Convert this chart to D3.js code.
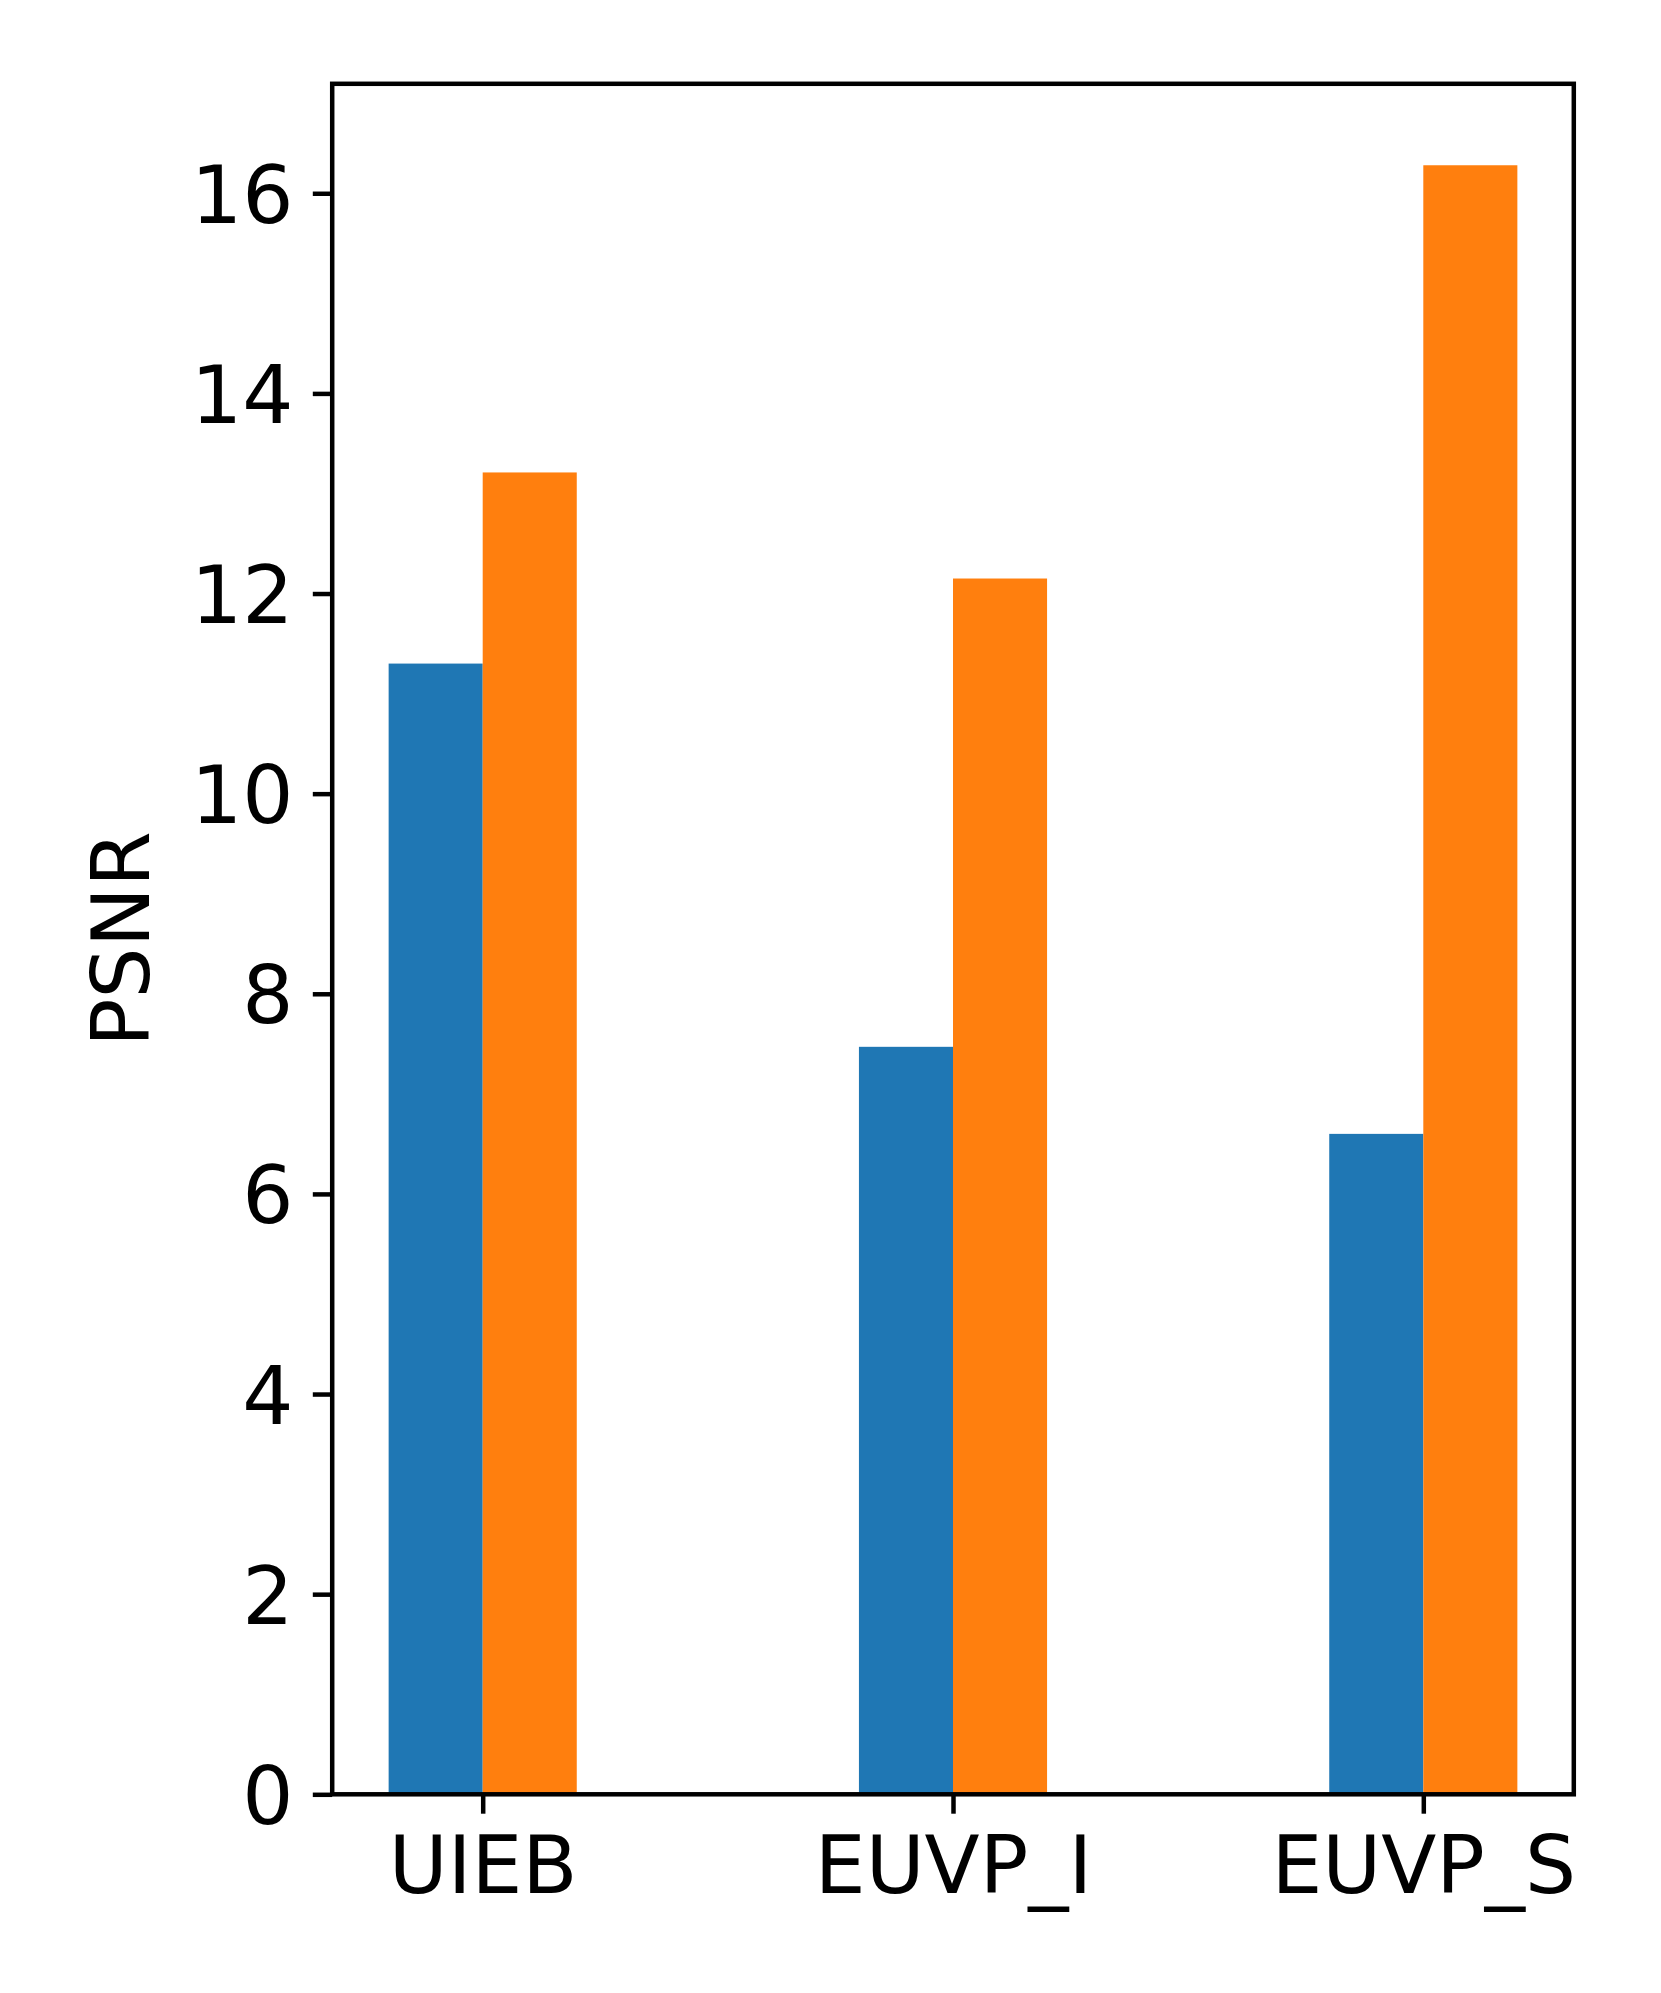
<!DOCTYPE html>
<html>
<head>
<meta charset="utf-8">
<script src="https://cdn.jsdelivr.net/npm/d3@7"></script>
<style>
  html, body { margin: 0; padding: 0; background: #fff; }
  svg { display: block; }
</style>
</head>
<body>
<div id="chart"></div>
<script>
const categories = ["UIEB", "EUVP_I", "EUVP_S"];
const seriesA = [11.30, 7.47, 6.60];
const seriesB = [13.21, 12.15, 16.28];
const yTicks = [0, 2, 4, 6, 8, 10, 12, 14, 16];
const yLabel = "PSNR";

(function () {
const W = 1661, H = 1993;
const mLeft = 332.2, mRight = 1573.8, mTop = 83.8, mBottom = 1794.3;
const barW = 0.2;
const fontSize = 80.5;
const spineW = 4.5;
const tickLen = 19.4;
const colors = ["#1f77b4", "#ff7f0e"];

const svg = d3.select("#chart").append("svg")
  .attr("width", W).attr("height", H)
  .style("font-family", "'DejaVu Sans', sans-serif");

const dataMin = -barW, dataMax = categories.length - 1 + barW;
const xPad = 0.05 * (dataMax - dataMin);
const x = d3.scaleLinear().domain([dataMin - xPad, dataMax + xPad]).range([mLeft, mRight]);
const yMax = d3.max(seriesB.concat(seriesA)) * 1.05;
const y = d3.scaleLinear().domain([0, yMax]).range([mBottom, mTop]);

const series = [seriesA, seriesB];
series.forEach((vals, si) => {
  svg.append("g").selectAll("rect").data(vals).join("rect")
    .attr("x", (d, i) => x(si === 0 ? i - barW : i))
    .attr("width", x(barW) - x(0))
    .attr("y", d => y(d))
    .attr("height", d => y(0) - y(d))
    .attr("fill", colors[si]);
});

// y axis
const yAxis = d3.axisLeft(y).tickValues(yTicks).tickSize(tickLen).tickPadding(19.4).tickFormat(d3.format("d"));
const gy = svg.append("g").attr("transform", `translate(${mLeft},0)`).call(yAxis);
gy.select(".domain").remove();
gy.selectAll(".tick line").attr("stroke", "#000").attr("stroke-width", spineW);
gy.selectAll(".tick text").attr("fill", "#000").style("font-size", fontSize + "px")
  .style("font-family", "'DejaVu Sans', sans-serif").attr("dy", "0.36em");

// x axis
const xAxis = d3.axisBottom(x).tickValues(d3.range(categories.length)).tickSize(tickLen).tickPadding(19.4)
  .tickFormat(i => categories[i]);
const gx = svg.append("g").attr("transform", `translate(0,${mBottom})`).call(xAxis);
gx.select(".domain").remove();
gx.selectAll(".tick line").attr("stroke", "#000").attr("stroke-width", spineW);
gx.selectAll(".tick text").attr("fill", "#000").style("font-size", fontSize + "px")
  .style("font-family", "'DejaVu Sans', sans-serif").attr("dy", "0.74em");

// spines
svg.append("rect").attr("x", mLeft).attr("y", mTop)
  .attr("width", mRight - mLeft).attr("height", mBottom - mTop)
  .attr("fill", "none").attr("stroke", "#000").attr("stroke-width", spineW)
  .attr("stroke-linejoin", "miter");

// y label
svg.append("text")
  .attr("transform", `translate(${149},${(mTop + mBottom) / 2}) rotate(-90)`)
  .attr("text-anchor", "middle")
  .style("font-size", fontSize + "px")
  .attr("fill", "#000")
  .text(yLabel);
})();
</script>
</body>
</html>
